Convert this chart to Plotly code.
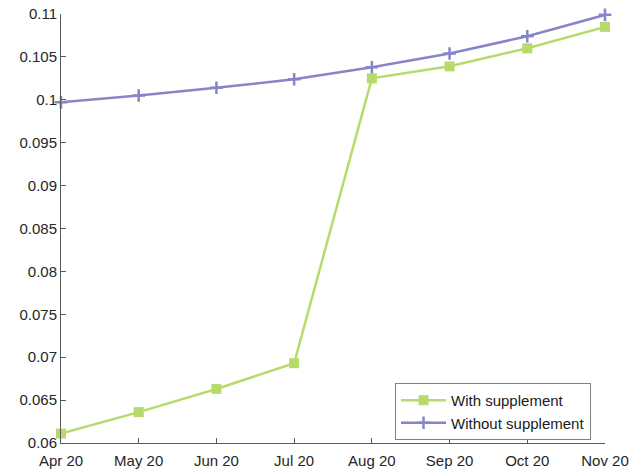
import plotly.graph_objects as go

months = ["Apr 20", "May 20", "Jun 20", "Jul 20", "Aug 20", "Sep 20", "Oct 20", "Nov 20"]
with_supplement = [0.0611, 0.0636, 0.0663, 0.0693, 0.1025, 0.1039, 0.1060, 0.1085]
without_supplement = [0.0997, 0.1005, 0.1014, 0.1024, 0.1038, 0.1054, 0.1074, 0.1099]
y_ticks = [0.06, 0.065, 0.07, 0.075, 0.08, 0.085, 0.09, 0.095, 0.1, 0.105, 0.11]
y_ticktext = ["0.06", "0.065", "0.07", "0.075", "0.08", "0.085", "0.09", "0.095", "0.1", "0.105", "0.11"]

green = "#b6db6c"
purple = "#8685c8"

fig = go.Figure()
fig.add_trace(go.Scatter(
    x=months, y=with_supplement, mode="lines+markers", name="With supplement",
    line=dict(color=green, width=2.5),
    marker=dict(symbol="square", size=10, color=green),
))
fig.add_trace(go.Scatter(
    x=months, y=without_supplement, mode="lines+markers", name="Without supplement",
    line=dict(color=purple, width=2.5),
    marker=dict(symbol="cross-thin", size=9, color=purple, line=dict(color=purple, width=2.5)),
))

axis_color = "#5a5a5a"
fig.update_layout(
    template="none",
    width=633, height=473,
    margin=dict(l=61, r=28, t=14, b=30, autoexpand=False),
    paper_bgcolor="white", plot_bgcolor="white",
    font=dict(family="Liberation Sans, Arial, sans-serif", size=15, color="#262626"),
    showlegend=True,
    hovermode=False,
    legend=dict(
        x=0.614, y=0.140, xanchor="left", yanchor="top",
        bgcolor="white", bordercolor="#7f7f7f", borderwidth=1,
        font=dict(size=15, color="#1a1a1a"),
        tracegroupgap=0, itemwidth=45,
    ),
    xaxis=dict(
        type="category", range=[0, 7], showgrid=False, zeroline=False,
        automargin=False, ticklabeloverflow="allow", ticklabelstandoff=4,
        showline=True, linecolor=axis_color, linewidth=1,
        ticks="inside", ticklen=5, tickcolor=axis_color,
        tickfont=dict(size=15, color="#262626"),
    ),
    yaxis=dict(
        range=[0.06, 0.11], tickvals=y_ticks, ticktext=y_ticktext,
        automargin=False, ticklabeloverflow="allow",
        showgrid=False, zeroline=False,
        showline=True, linecolor=axis_color, linewidth=1,
        ticks="inside", ticklen=5, tickcolor=axis_color,
        tickfont=dict(size=15, color="#262626"),
    ),
)
fig.update_traces(cliponaxis=False)
# remove the browser's default 8px body margin so the figure fills the window exactly
fig.write_html(
    "out.html",
    config={"displayModeBar": False},
    post_script="document.body.style.margin='0';document.body.style.overflow='hidden';",
)
